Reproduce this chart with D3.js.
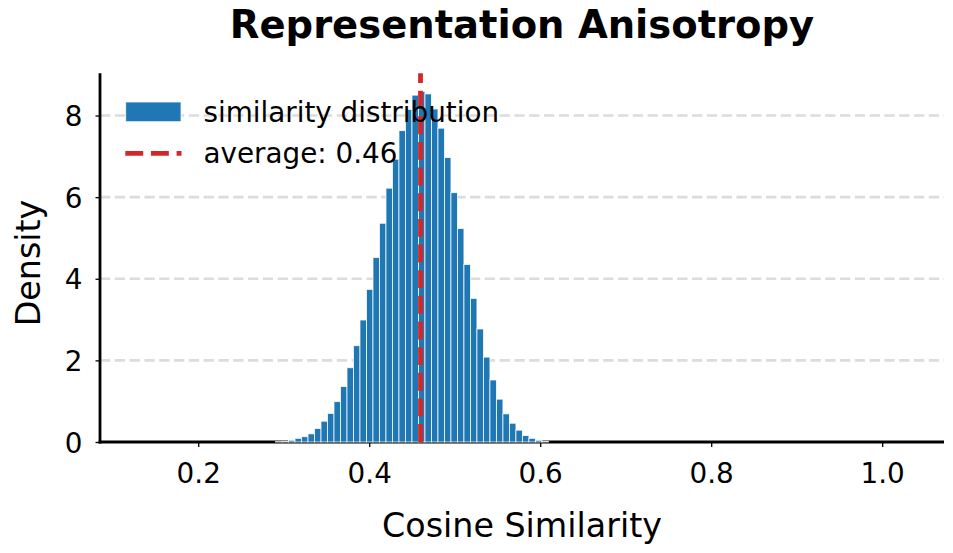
<!DOCTYPE html>
<html>
<head>
<meta charset="utf-8">
<script src="https://cdn.jsdelivr.net/npm/d3@7"></script>
<style>
  html, body { margin: 0; padding: 0; background: #fff; }
  svg { display: block; font-family: "DejaVu Sans", sans-serif; }
</style>
</head>
<body>
<svg id="chart" width="953" height="553"></svg>
<script>
// ---- data ----
const binLeftEdges = [
  0.2904, 0.2980, 0.3056, 0.3132, 0.3208, 0.3284, 0.3360, 0.3436, 0.3512, 0.3588,
  0.3664, 0.3740, 0.3816, 0.3892, 0.3968, 0.4044, 0.4120, 0.4196, 0.4272, 0.4348,
  0.4424, 0.4500, 0.4576, 0.4652, 0.4728, 0.4804, 0.4880, 0.4956, 0.5032, 0.5108,
  0.5184, 0.5260, 0.5336, 0.5412, 0.5488, 0.5564, 0.5640, 0.5716, 0.5792, 0.5868,
  0.5944, 0.6020
];
const binWidth = 0.0076;
const densities = [
  0.01, 0.015, 0.04, 0.09, 0.13, 0.20, 0.33, 0.51, 0.70, 0.99,
  1.36, 1.82, 2.36, 2.99, 3.74, 4.52, 5.36, 6.22, 6.93, 7.63,
  8.15, 8.50, 8.59, 8.53, 8.16, 7.69, 6.97, 6.11, 5.23, 4.35,
  3.52, 2.77, 2.08, 1.52, 1.05, 0.69, 0.46, 0.29, 0.16, 0.09,
  0.04, 0.015
];
const averageValue = 0.46;
const xTicks = [0.2, 0.4, 0.6, 0.8, 1.0];
const yTicks = [0, 2, 4, 6, 8];
const xDomain = [0.0851, 1.0723];
const yDomain = [0, 9.035];
const titleText = "Representation Anisotropy";
const xLabelText = "Cosine Similarity";
const yLabelText = "Density";
const legendLabels = ["similarity distribution", "average: " + averageValue.toFixed(2)];

// ---- drawing ----
(function () {
const svg = d3.select("#chart");
const pLeft = 100, pRight = 944, pTop = 73.3, pBottom = 442;
const x = d3.scaleLinear().domain(xDomain).range([pLeft, pRight]);
const y = d3.scaleLinear().domain(yDomain).range([pBottom, pTop]);

const barColor = "#1f77b4";
const redColor = "#d62728";

// grid
svg.append("g").selectAll("line").data(yTicks.filter(d => d > 0)).join("line")
  .attr("x1", pLeft).attr("x2", pRight)
  .attr("y1", d => y(d)).attr("y2", d => y(d))
  .attr("stroke", "#dcdcdc").attr("stroke-width", 2.6)
  .attr("stroke-dasharray", "10.3 4.5");

// axes
const xAxis = d3.axisBottom(x).tickValues(xTicks).tickFormat(d3.format(".1f"))
  .tickSizeInner(5).tickSizeOuter(0).tickPadding(8);
const gx = svg.append("g").attr("transform", `translate(0,${pBottom})`).call(xAxis);
gx.select(".domain").remove();
gx.selectAll(".tick line").attr("stroke", "#000").attr("stroke-width", 1.3);
gx.selectAll(".tick text").attr("font-size", 27.8).attr("fill", "#000")
  .attr("font-family", "DejaVu Sans")
  .attr("y", 41).attr("dy", 0);

const yAxis = d3.axisLeft(y).tickValues(yTicks).tickFormat(d3.format("d"))
  .tickSizeInner(4.5).tickSizeOuter(0).tickPadding(13);
const gy = svg.append("g").attr("transform", `translate(${pLeft},0)`).call(yAxis);
gy.select(".domain").remove();
gy.selectAll(".tick line").attr("stroke", "#000").attr("stroke-width", 1.3);
gy.selectAll(".tick text").attr("font-size", 27.8).attr("fill", "#000")
  .attr("font-family", "DejaVu Sans")
  .attr("x", -17.5).attr("dy", "0.36em");

// spines
svg.append("line").attr("x1", pLeft).attr("x2", pLeft).attr("y1", pTop).attr("y2", pBottom + 1.4)
  .attr("stroke", "#000").attr("stroke-width", 2.8);
svg.append("line").attr("x1", pLeft - 1.4).attr("x2", pRight).attr("y1", pBottom).attr("y2", pBottom)
  .attr("stroke", "#000").attr("stroke-width", 2.8);

// bars
svg.append("g").selectAll("rect").data(densities).join("rect")
  .attr("x", (d, i) => x(binLeftEdges[i]))
  .attr("width", (d, i) => x(binLeftEdges[i] + binWidth) - x(binLeftEdges[i]))
  .attr("y", d => y(d))
  .attr("height", d => y(0) - y(d))
  .attr("fill", barColor)
  .attr("stroke", "#ffffff").attr("stroke-width", 0.9).attr("stroke-opacity", 0.85);

// average line (dash pattern starting at the bottom)
svg.append("line")
  .attr("x1", x(averageValue)).attr("x2", x(averageValue))
  .attr("y1", y(0)).attr("y2", y(yDomain[1]))
  .attr("stroke", redColor).attr("stroke-width", 4.8)
  .attr("stroke-dasharray", "17.9 7.75");

// legend
const lg = svg.append("g");
lg.append("rect").attr("x", 125.7).attr("y", 102).attr("width", 55.3).attr("height", 19.7)
  .attr("fill", barColor).attr("stroke", "#ffffff").attr("stroke-width", 0.9).attr("stroke-opacity", 0.85);
lg.append("line").attr("x1", 125.3).attr("x2", 181.5).attr("y1", 153.3).attr("y2", 153.3)
  .attr("stroke", redColor).attr("stroke-width", 4.8).attr("stroke-dasharray", "17.9 7.75");
lg.selectAll("text").data(legendLabels).join("text")
  .attr("x", 203.5).attr("y", (d, i) => i === 0 ? 121.7 : 163.3)
  .attr("font-size", 27.8).attr("fill", "#000").text(d => d);

// title and labels
svg.append("text").attr("x", 522).attr("y", 38.3).attr("text-anchor", "middle")
  .attr("font-size", 38.5).attr("font-weight", "bold").attr("fill", "#000").text(titleText);
svg.append("text").attr("x", 522).attr("y", 536.5).attr("text-anchor", "middle")
  .attr("font-size", 33.3).attr("fill", "#000").text(xLabelText);
svg.append("text").attr("transform", "translate(39.5,263) rotate(-90)")
  .attr("text-anchor", "middle").attr("font-size", 33.3).attr("fill", "#000").text(yLabelText);
})();
</script>
</body>
</html>
